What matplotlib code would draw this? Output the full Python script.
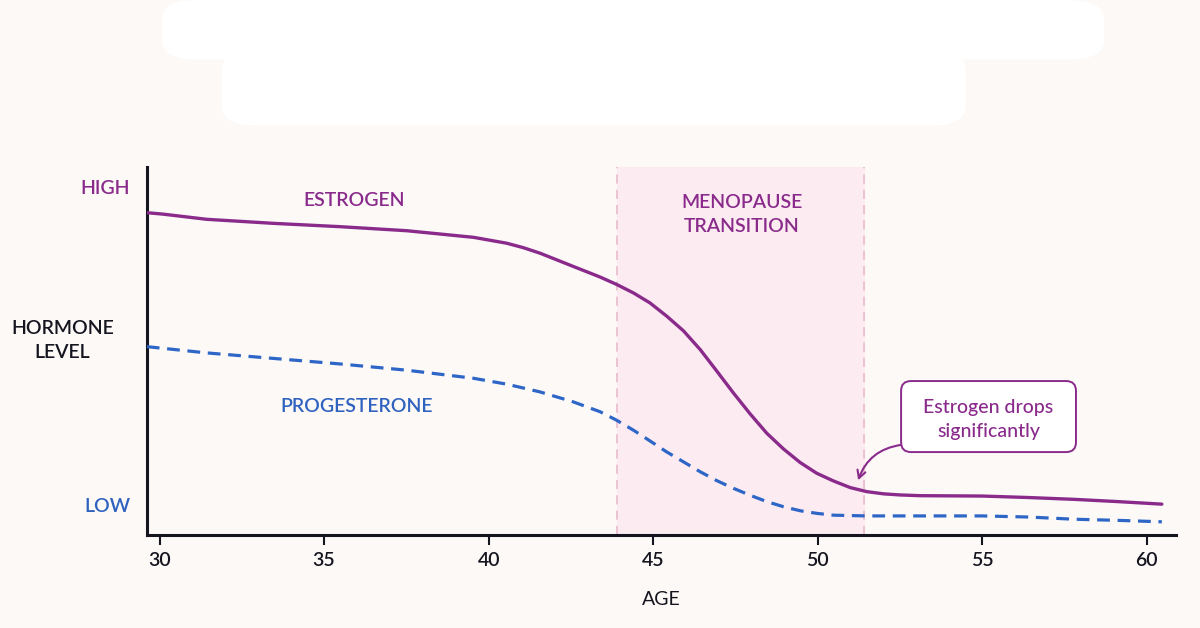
import matplotlib
matplotlib.use("Agg")
import matplotlib.pyplot as plt
from matplotlib.patches import FancyBboxPatch

plt.rcParams['font.family'] = ['Lato', 'DejaVu Sans']
plt.rcParams['font.weight'] = 'semibold'

# ---- data ----
age_estrogen = [29.61, 30.11, 31.43, 33.46, 35.48, 37.51, 39.54, 40.55, 41.05, 41.56, 42.57,
                43.39, 43.89, 44.40, 44.9, 45.41, 45.92, 46.43, 46.93, 47.44, 47.95,
                48.45, 48.96, 49.47, 49.97, 50.48, 50.99, 51.49, 52.0, 52.5, 53.11,
                55.0, 56.4, 57.8, 59.1, 60.46]
estrogen = [87.6, 87.2, 85.8, 84.7, 83.8, 82.7, 80.9, 79.3, 78.1, 76.6, 73.0,
            70.1, 68.1, 65.8, 63.1, 59.5, 55.5, 50.4, 44.6, 38.6, 32.9,
            27.7, 23.4, 19.7, 16.8, 14.7, 12.9, 11.8, 11.2, 10.9, 10.7,
            10.6, 10.2, 9.7, 9.1, 8.4]

age_progesterone = [29.61, 31.43, 33.46, 35.48, 37.51, 39.54, 40.55, 41.56, 42.57, 43.39,
                    43.89, 44.40, 44.9, 45.41, 45.92, 46.43, 46.93, 47.44, 47.95, 48.45,
                    48.96, 49.47, 49.97, 50.48, 51.49, 52.5, 55.0, 56.4, 57.8, 59.1, 60.46]
progesterone = [51.2, 49.5, 48.0, 46.5, 44.8, 42.6, 41.0, 38.9, 36.2, 33.5,
                31.2, 28.5, 25.6, 22.6, 19.9, 17.2, 14.8, 12.7, 10.8, 9.1,
                7.7, 6.6, 5.9, 5.4, 5.2, 5.2, 5.2, 4.9, 4.3, 4.0, 3.6]

transition_span = [43.9, 51.4]
x_ticks = [30, 35, 40, 45, 50, 55, 60]
y_tick_pos = [94.6, 8.2]
y_tick_labels = ['HIGH', 'LOW']
annotation_point = [51.23, 14.9]
annotation_start = [52.53, 24.5]
box_x = [52.535, 57.85]
box_y = [22.55, 41.85]

PURPLE = '#8a2b8c'
BLUE = '#2e66c8'
BG = '#fcf9f7'
DARK = '#15151f'

fig = plt.figure(figsize=(12, 6.28), dpi=100, facecolor=BG)

# redacted white header area
fig.patches.append(FancyBboxPatch((0.135, 0.905), 0.785, 0.095, boxstyle='round,pad=0,rounding_size=0.03',
                                  transform=fig.transFigure, fc='#ffffff', ec='none'))
fig.patches.append(FancyBboxPatch((0.185, 0.80), 0.62, 0.12, boxstyle='round,pad=0,rounding_size=0.03',
                                  transform=fig.transFigure, fc='#ffffff', ec='none'))

ax = fig.add_axes([0.1225, 0.148, 0.8575, 0.586])
ax.set_facecolor(BG)
ax.set_xlim(29.617, 60.89)
ax.set_ylim(0, 100)

# transition shading
ax.axvspan(transition_span[0], transition_span[1], color='#fcecf1', zorder=0)
for xv in transition_span:
    ax.axvline(xv, color='#e6b7ca', lw=1.1, ls=(0, (6, 4)), zorder=1)

ax.plot(age_estrogen, estrogen, color=PURPLE, lw=2.4, solid_joinstyle='round',
        solid_capstyle='round', zorder=3)
ax.plot(age_progesterone, progesterone, color=BLUE, lw=2.3, dashes=(4, 2.4), zorder=3)

# spines
for s in ['top', 'right']:
    ax.spines[s].set_visible(False)
for s in ['left', 'bottom']:
    ax.spines[s].set_linewidth(2.2)
    ax.spines[s].set_color(DARK)

ax.set_xticks(x_ticks)
ax.set_xticklabels([str(t) for t in x_ticks], fontsize=14, color=DARK)
ax.tick_params(axis='x', length=7, width=1.5, color=DARK, pad=5)
ax.set_yticks(y_tick_pos)
ax.set_yticklabels(y_tick_labels, fontsize=14)
ax.tick_params(axis='y', length=0, pad=12)
yl = ax.get_yticklabels()
yl[0].set_color(PURPLE)
yl[1].set_color('#2f62bf')

ax.set_xlabel('AGE', fontsize=14, color=DARK, labelpad=16)
fig.text(0.052, 0.458, 'HORMONE\nLEVEL', ha='center', va='center', fontsize=14,
         color=DARK, linespacing=1.55)

# labels
ax.text(35.9, 90.8, 'ESTROGEN', color=PURPLE, fontsize=14, ha='center', va='center')
ax.text(36.0, 34.8, 'PROGESTERONE', color='#2f62bf', fontsize=14, ha='center', va='center')
ax.text(47.7, 87.2, 'MENOPAUSE\nTRANSITION', color=PURPLE, fontsize=14, ha='center',
        va='center', linespacing=1.5)

# annotation box
box = FancyBboxPatch((box_x[0], box_y[0]), box_x[1] - box_x[0], box_y[1] - box_y[0],
                     boxstyle='round,pad=0,rounding_size=0.3', mutation_aspect=8.9,
                     fc='white', ec=PURPLE, lw=1.4, zorder=5)
ax.add_patch(box)
ax.text((box_x[0] + box_x[1]) / 2, (box_y[0] + box_y[1]) / 2 - 0.8,
        'Estrogen drops\nsignificantly', ha='center', va='center', fontsize=14,
        color=PURPLE, linespacing=1.45, zorder=6, fontweight='medium')
ax.annotate('', xy=annotation_point, xytext=annotation_start,
            arrowprops=dict(arrowstyle='->,head_length=0.55,head_width=0.3', color=PURPLE, lw=1.5,
                            connectionstyle='arc3,rad=0.3', shrinkA=0, shrinkB=0),
            zorder=5)

fig.savefig('out.png', dpi=100, facecolor=BG)
